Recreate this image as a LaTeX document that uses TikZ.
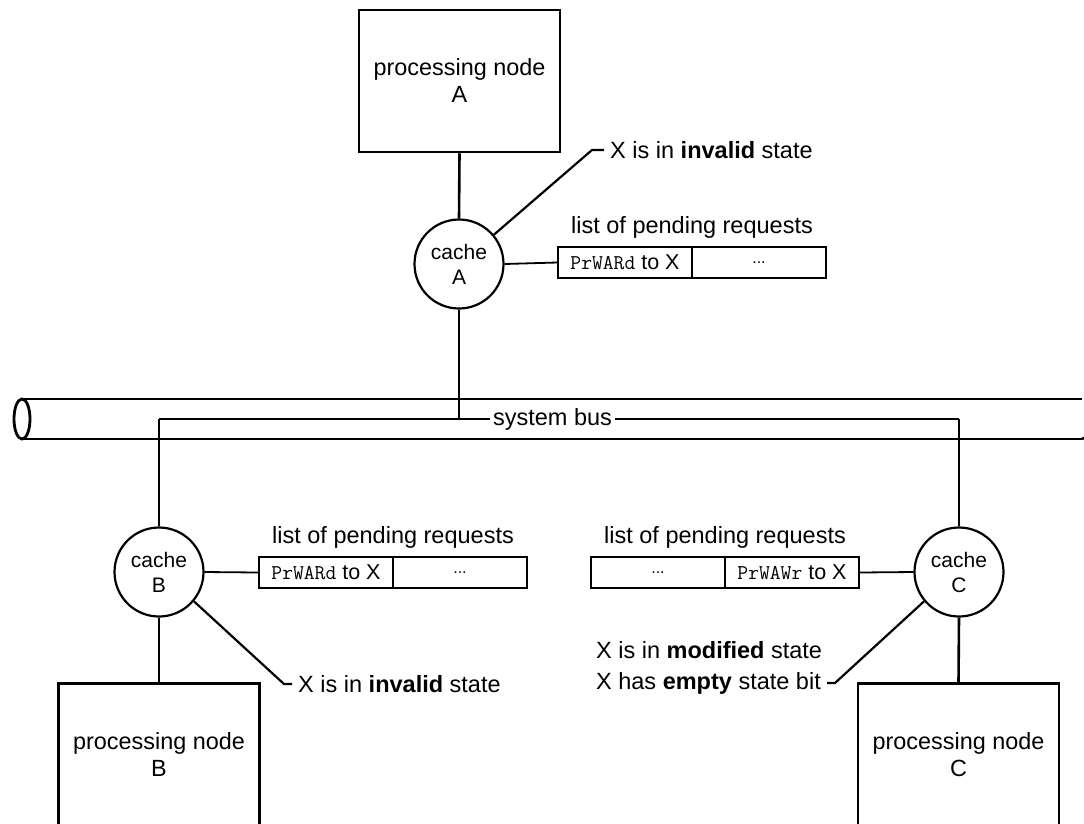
\documentclass[tikz,border=0pt]{standalone}
\usepackage{fontspec}
\setmainfont{Liberation Sans}
\usetikzlibrary{calc}
\newcommand\prcode[1]{{\fontsize{21}{24}\ttfamily #1}}
\begin{document}
\begin{tikzpicture}[x=1pt,y=-1pt,
  proc/.style={draw, line width=2.5pt, minimum width=201pt, minimum height=142pt,
    align=center, inner sep=0pt, font=\fontsize{23.4}{27}\selectfont},
  cache/.style={circle, draw, line width=2.2pt, minimum size=89pt, align=center,
    inner sep=0pt, font=\fontsize{21}{25}\selectfont},
  cell/.style={draw, line width=1.6pt, minimum width=134pt, minimum height=31pt,
    inner sep=0pt, font=\fontsize{21.5}{26}\selectfont},
  lbl/.style={inner sep=0pt, font=\fontsize{23.5}{28}\selectfont},
  note/.style={inner ysep=0pt, inner xsep=6pt, font=\fontsize{23.5}{28}\selectfont},
  wire/.style={line width=2.6pt},
  thinwire/.style={line width=1.3pt},
  callout/.style={line width=2.2pt}
]
\useasboundingbox (0,0) rectangle (1084,823);
\clip (0,0) rectangle (1084,823);

% bus
\draw[wire] (22,399) -- (1082,399);
\draw[wire] (22,439) -- (1082,439);
\draw[wire] (1082,439) arc[start angle=90, end angle=0, x radius=8, y radius=20];
\draw[line width=2.8pt] (22,419) ellipse [x radius=8, y radius=20];

% processing nodes
\node[proc] (pA) at (459.5,81) {processing node\\A};
\node[proc] (pB) at (159,754.5) {processing node\\B};
\node[proc] (pC) at (958.5,754.5) {processing node\\C};

% caches
\node[cache] (cA) at (459,264) {cache\\A};
\node[cache] (cB) at (159,572) {cache\\B};
\node[cache] (cC) at (959,572) {cache\\C};

% pending lists
\node[cell] (a1) at (625,262.5) {\prcode{PrWARd} to X};
\node[cell] (a2) at (759,262.5) {\fontsize{16}{18}\selectfont ...};
\node[lbl, anchor=base] (la) at (692,233) {list of pending requests};

\node[cell] (b1) at (326,572.5) {\prcode{PrWARd} to X};
\node[cell] (b2) at (460,572.5) {\fontsize{16}{18}\selectfont ...};
\node[lbl, anchor=base] (lb) at (393,543) {list of pending requests};

\node[cell] (c1) at (658,572.5) {\fontsize{16}{18}\selectfont ...};
\node[cell] (c2) at (792,572.5) {\prcode{PrWAWr} to X};
\node[lbl, anchor=base] (lc) at (725,543) {list of pending requests};

% bus label and junctions
\node[lbl, inner xsep=3pt] (bus) at (552.5,419) {system bus};
\coordinate (jA) at (459,419);
\coordinate (jB) at (159,419);
\coordinate (jC) at (959,419);

% connectors
\draw[wire] (pA.south) -- (cA.north);
\draw[wire] (cA.south) -- (jA);
\draw[thinwire] (jB) -- (jA) -- (bus.west);
\draw[thinwire] (bus.east) -- (jC);
\draw[wire] (jB) -- (cB.north);
\draw[wire] (jC) -- (cC.north);
\draw[wire] (cB.south) -- (pB.north);
\draw[wire] (cC.south) -- (pC.north);
\draw[line width=1.8pt] (cA.east) -- (a1.west);
\draw[line width=1.8pt] (cB.east) -- (b1.west);
\draw[line width=1.8pt] (cC.west) -- (c2.east);

% callouts
\node[note, anchor=west] (tA) at (604,150) {X is in \textbf{invalid} state};
\coordinate (kA) at (592,150);
\draw[callout] (cA.40) -- (kA) -- (tA.west);

\node[note, anchor=west] (tB) at (292,684) {X is in \textbf{invalid} state};
\coordinate (kB) at (284,684);
\draw[callout] (cB.-40) -- (kB) -- (tB.west);

\node[note, anchor=east] (tC2) at (827,683) {X has \textbf{empty} state bit};
\node[note, anchor=west] (tC1) at ($(tC2.west)+(0,-33)$) {X is in \textbf{modified} state};
\coordinate (kC) at (835,683);
\draw[callout] (cC.220) -- (kC) -- (tC2.east);
\end{tikzpicture}
\end{document}
